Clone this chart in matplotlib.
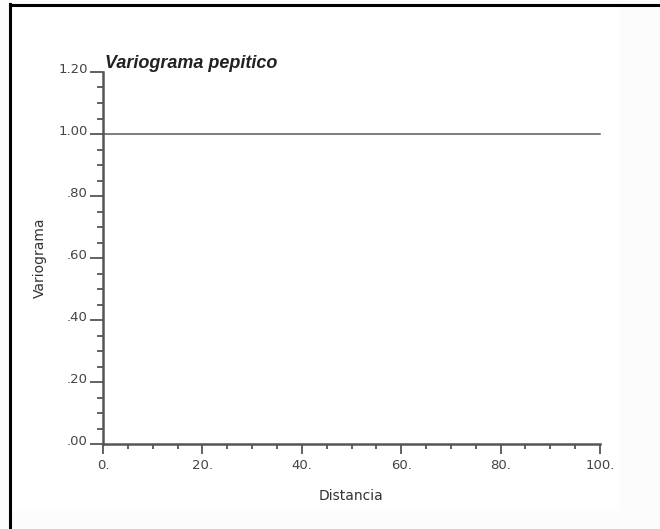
import numpy as np
import matplotlib.pyplot as plt
from matplotlib.ticker import MultipleLocator, FixedFormatter, FixedLocator
from matplotlib.patches import Rectangle
from matplotlib.transforms import ScaledTranslation

# Data: nugget (pepitic) variogram, constant sill
distancia = [0.0, 100.0]
variograma = [1.0, 1.0]

x_ticks = [0, 20, 40, 60, 80, 100]
x_labels = ["0.", "20.", "40.", "60.", "80.", "100."]
y_ticks = [0.0, 0.2, 0.4, 0.6, 0.8, 1.0, 1.2]
y_labels = [".00", ".20", ".40", ".60", ".80", "1.00", "1.20"]

plt.rcParams['font.family'] = ['DejaVu Sans']

fig = plt.figure(figsize=(6.6, 5.29), dpi=100)
fig.patch.set_facecolor('#fcfcfc')

# page-like frame: white area with black top/left border
fig.add_artist(Rectangle((11 / 660, 18 / 529), 609 / 660, 1 - 23 / 529, transform=fig.transFigure,
                         facecolor='white', edgecolor='none', zorder=0))
fig.add_artist(plt.Line2D([10.5 / 660, 10.5 / 660], [0, 1 - 4 / 529], transform=fig.transFigure,
                          color='black', lw=2.2))
fig.add_artist(plt.Line2D([10 / 660, 1], [1 - 5 / 529, 1 - 5 / 529], transform=fig.transFigure,
                          color='black', lw=2.2))

ax = fig.add_axes([103 / 660, 1 - 444 / 529, 497 / 660, 372 / 529])
ax.set_facecolor('none')

ax.plot(distancia, variograma, color='#5a5a5a', lw=1.1, clip_on=False)

ax.set_xlim(0, 100)
ax.set_ylim(0, 1.2)

for s in ['top', 'right']:
    ax.spines[s].set_visible(False)
for s in ['left', 'bottom']:
    ax.spines[s].set_color('#555555')
    ax.spines[s].set_linewidth(1.8)

ax.xaxis.set_major_locator(FixedLocator(x_ticks))
ax.xaxis.set_major_formatter(FixedFormatter(x_labels))
ax.xaxis.set_minor_locator(MultipleLocator(5))
ax.yaxis.set_major_locator(FixedLocator(y_ticks))
ax.yaxis.set_major_formatter(FixedFormatter(y_labels))
ax.yaxis.set_minor_locator(MultipleLocator(0.05))

ax.tick_params(which='both', width=1.3, color='#555555', labelsize=9.5, labelcolor='#444444')
ax.tick_params(axis='x', which='major', length=7, pad=4)
ax.tick_params(axis='x', which='minor', length=3.6)
ax.tick_params(axis='y', which='major', length=9.5, pad=1.5)
ax.tick_params(axis='y', which='minor', length=4.3)

# y labels sit a little above their ticks
for lab in ax.get_yticklabels():
    lab.set_transform(lab.get_transform() + ScaledTranslation(0, 3 / 72, fig.dpi_scale_trans))

ax.set_xlabel("Distancia", fontsize=10, color='#333333', labelpad=12)
ax.set_ylabel("Variograma", fontsize=10, color='#333333', labelpad=8)

ax.text(0.005, 1.0, "Variograma pepitico", transform=ax.transAxes, fontsize=13,
        fontweight='bold', fontstyle='italic', color='#222222', ha='left', va='bottom',
        family='Liberation Sans')

fig.savefig("out.png", dpi=100, facecolor=fig.get_facecolor())
